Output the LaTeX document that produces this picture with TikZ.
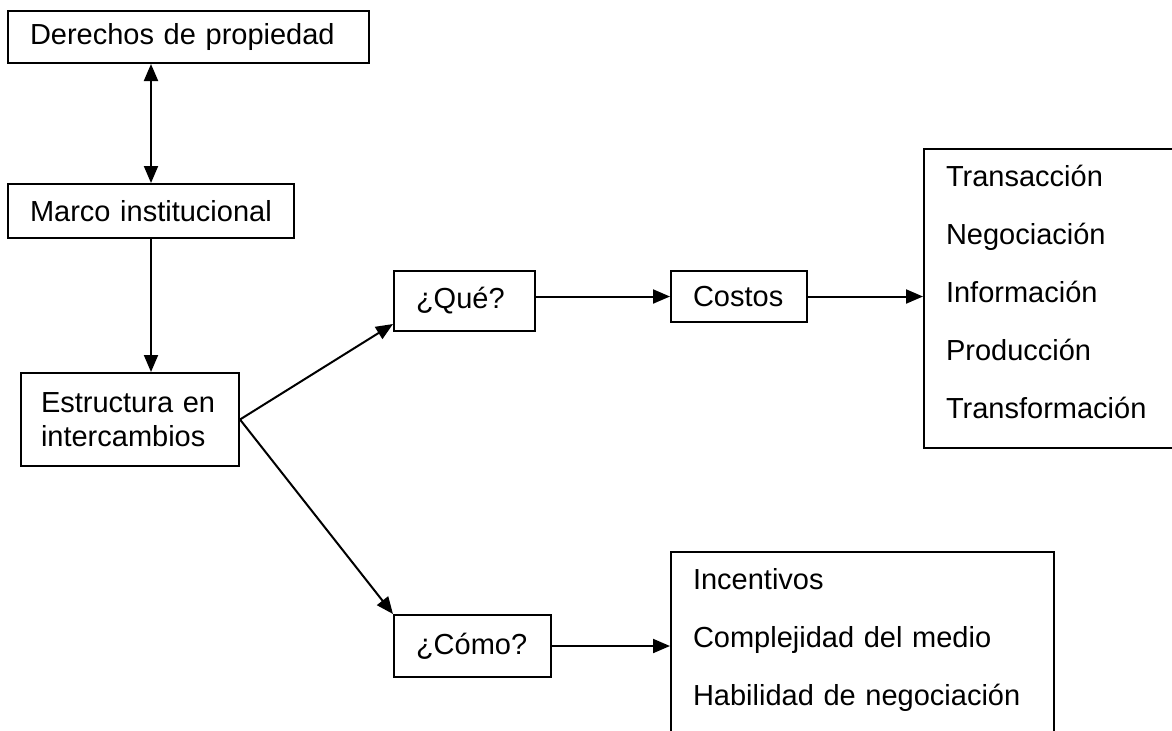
\documentclass[tikz,border=0pt]{standalone}
\usepackage{fontspec}
\setmainfont{Liberation Sans}
\usetikzlibrary{arrows.meta,positioning}

\begin{document}
\begin{tikzpicture}[x=0.5pt,y=-0.5pt,
    >={Triangle[length=8.5pt,width=7pt]},
    box/.style={draw,line width=1pt,anchor=north west,align=left,
                inner xsep=11pt,inner ysep=0pt,text width=#1,
                font=\fontsize{14.5}{17}\selectfont},
    list/.style={box=#1,font=\fontsize{14.5}{29}\selectfont,
                 text height=18.5pt},
    link/.style={line width=1pt}]

    \useasboundingbox (0,0) rectangle (1172,730);
    \clip (0,0) rectangle (1172,730);

    \node[box=158.5pt,minimum height=26pt] (der) at (7,10)
        {Derechos de propiedad};
    \node[box=121pt,minimum height=27pt] (mar) at (7,183)
        {Marco institucional};
    \node[box=89pt,minimum height=46.5pt,inner xsep=10pt] (est) at (20,372)
        {Estructura en\\intercambios};
    \node[box=48.5pt,minimum height=30pt] (que) at (393,270) {¿Qué?};
    \node[box=46pt,minimum height=25.5pt] (cos) at (670,270) {Costos};
    \node[box=56.5pt,minimum height=31pt] (cmo) at (393,614) {¿Cómo?};

    % lists of costs and factors
    \node[list=111.5pt,text depth=131pt] (cst) at (923,148)
        {Transacción\\Negociación\\Información\\Producción\\Transformación};
    \node[list=169.5pt,text depth=101pt] (fac) at (670,551)
        {Incentivos\\Complejidad del medio\\Habilidad de negociación};

    \draw[link,<->] (mar.north |- der.south) -- (mar.north);
    \draw[link,->] (mar.south) -- (mar.south |- est.north);
    \draw[link,->] (est.east) -- ([yshift=4pt]que.south west);
    \draw[link,->] (est.east) -- (cmo.north west);
    \draw[link,->] (que.east |- cos.west) -- (cos.west);
    \draw[link,->] (cos.east) -- (cos.east -| cst.west);
    \draw[link,->] (cmo.east) -- (cmo.east -| fac.west);
\end{tikzpicture}
\end{document}
